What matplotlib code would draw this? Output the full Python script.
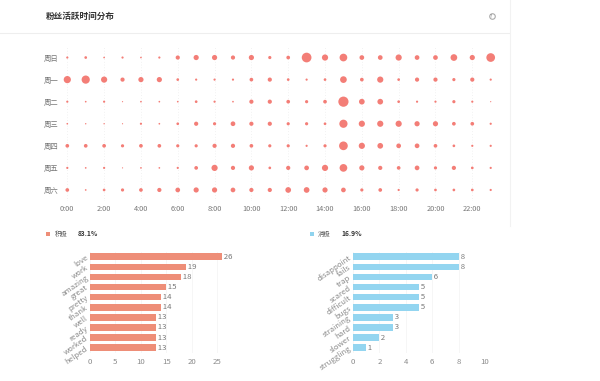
import numpy as np
import matplotlib
matplotlib.use("Agg")
import matplotlib.pyplot as plt
from matplotlib.patches import Rectangle

plt.rcParams["font.family"] = ["Noto Sans CJK SC", "DejaVu Sans"]

days = ["周日", "周一", "周二", "周三", "周四", "周五", "周六"]
hours = list(range(24))
hour_labels = ["%d:00" % h for h in hours[::2]]

# activity per weekday, one value per hour
sun = [15, 20, 10, 15, 10, 15, 35, 45, 45, 35, 45, 25, 30, 90, 55, 70, 40, 40, 55, 40, 40, 60, 45, 80]
mon = [65, 75, 55, 35, 45, 45, 20, 15, 15, 15, 30, 35, 20, 15, 20, 60, 30, 55, 20, 35, 35, 25, 35, 15]
tue = [15, 10, 15, 5, 10, 10, 10, 20, 15, 10, 35, 35, 30, 25, 30, 95, 50, 50, 20, 15, 15, 25, 15, 5]
wed = [10, 7, 7, 5, 15, 10, 20, 35, 25, 40, 35, 35, 25, 25, 20, 75, 55, 55, 55, 45, 45, 30, 30, 15]
thu = [30, 30, 30, 25, 30, 30, 25, 25, 35, 35, 30, 25, 25, 15, 25, 80, 55, 50, 40, 40, 30, 20, 15, 15]
fri = [15, 10, 15, 5, 10, 10, 15, 30, 55, 35, 45, 20, 35, 40, 55, 70, 45, 35, 30, 40, 25, 35, 20, 15]
sat = [30, 10, 20, 25, 30, 35, 40, 45, 45, 40, 35, 35, 50, 50, 45, 40, 25, 30, 15, 25, 20, 20, 20, 15]
activity = [sun, mon, tue, wed, thu, fri, sat]

pos_words = ["love", "work", "amazing", "great", "pretty", "thank", "well", "ready", "worked", "helped"]
pos_counts = [26, 19, 18, 15, 14, 14, 13, 13, 13, 13]
neg_words = ["disappoint", "fails", "trap", "scared", "difficult", "bugs", "straining", "hard", "slower", "struggling"]
neg_counts = [8, 8, 6, 5, 5, 5, 3, 3, 2, 1]

W, H = 600, 381
fig = plt.figure(figsize=(W / 100, H / 100), dpi=100, facecolor="white")


def px_axes(x0, y0, x1, y1):
    # axes from pixel corners, y measured from the top
    return fig.add_axes([x0 / W, 1 - y1 / H, (x1 - x0) / W, (y1 - y0) / H])


bg = fig.add_axes([0, 0, 1, 1], zorder=-1)
bg.set_xlim(0, W)
bg.set_ylim(H, 0)
bg.axis("off")
bg.plot([0, 509], [33, 33], color="#eeeeee", lw=0.8)
bg.plot([509.5, 509.5], [0, 226], color="#f2f2f2", lw=0.8)
bg.text(46, 16, "粉丝活跃时间分布", fontsize=6.2, fontweight="bold", color="#333333", va="center")
bg.scatter([491.5], [16], s=16, facecolor="white", edgecolor="#aaaaaa", lw=0.8)
bg.text(491.5, 16, "?", fontsize=3.6, color="#888888", ha="center", va="center")

bg.add_patch(Rectangle((46, 232), 3.8, 3.8, color="#ee8e78", lw=0))
bg.text(55, 234, "积极", fontsize=4.6, color="#555555", va="center")
bg.text(78, 234, "83.1%", fontsize=4.8, color="#333333", fontweight="bold", va="center")
bg.add_patch(Rectangle((310, 232), 3.8, 3.8, color="#8fd3ee", lw=0))
bg.text(318, 234, "消极", fontsize=4.6, color="#555555", va="center")
bg.text(341, 234, "16.9%", fontsize=4.8, color="#333333", fontweight="bold", va="center")

# bubble chart
ax = px_axes(58.1, 46.5, 499.9, 201)
ax.set_xlim(-0.5, 23.5)
ax.set_ylim(6.5, -0.5)
for row, vals in enumerate(activity):
    d = (np.array(vals) * 0.1 + 0.7) * 0.72  # value to marker diameter
    ax.scatter(hours, [row] * 24, s=d ** 2, color="#f2675f", alpha=0.85, lw=0, zorder=3)
for h in hours[::2]:
    ax.axvline(h, color="#e6e6e6", lw=0.5, ls=(0, (1, 3)), zorder=1)
ax.set_xticks(hours[::2], hour_labels)
ax.set_yticks(range(7), days)
ax.tick_params(length=0, labelsize=5.3, labelcolor="#777777")
ax.tick_params(axis="x", pad=3)
ax.tick_params(axis="y", pad=0)
for s in ax.spines.values():
    s.set_visible(False)


def bar_panel(box, words, counts, color, xmax, ticks):
    ax = px_axes(*box)
    ax.barh(range(10), counts, height=0.66, color=color, zorder=2)
    ax.set_xlim(0, xmax)
    ax.set_ylim(9.5, -0.5)
    ax.set_xticks(ticks)
    ax.set_yticks(range(10), words, rotation=35, ha="right", va="center", rotation_mode="anchor")
    ax.tick_params(length=0, labelsize=5.6, labelcolor="#8a8a8a")
    ax.tick_params(axis="x", pad=3.5)
    ax.tick_params(axis="y", pad=2)
    ax.grid(axis="x", color="#f3f3f3", lw=0.5, zorder=0)
    for s in ax.spines.values():
        s.set_visible(False)
    for i, c in enumerate(counts):
        ax.text(c, i, " %d" % c, fontsize=5.6, color="#777777", va="center")


bar_panel((90, 251.7, 222, 352.7), pos_words, pos_counts, "#ee8e78", 26, [0, 5, 10, 15, 20, 25])
bar_panel((353, 251.7, 485, 352.7), neg_words, neg_counts, "#93d5f0", 10, [0, 2, 4, 6, 8, 10])

fig.savefig("out.png", dpi=100)
plt.close()
